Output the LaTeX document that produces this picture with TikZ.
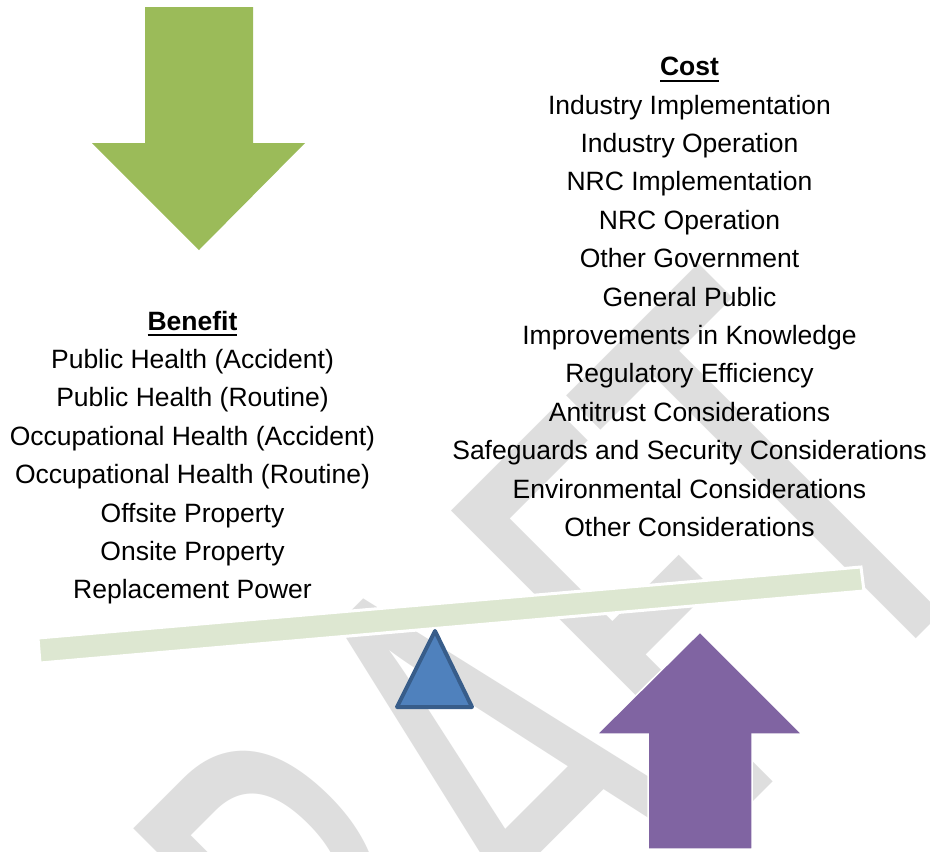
\documentclass[tikz,border=0pt]{standalone}
\usepackage{fontspec}
\usepackage{graphicx}
\setmainfont{Liberation Sans}
\newfontfamily\wmfont{Carlito}

\definecolor{wmgray}{RGB}{222,222,222}
\definecolor{benefitgreen}{RGB}{155,187,89}
\definecolor{costpurple}{RGB}{128,100,162}
\definecolor{beamgreen}{RGB}{221,231,209}
\definecolor{pivotfill}{RGB}{79,129,189}
\definecolor{pivotline}{RGB}{56,93,138}

% bold heading with a heavy underline
\newcommand{\headline}[1]{\setbox0\hbox{\bfseries #1}\rlap{\rule[-6pt]{\wd0}{2pt}}\box0}

\begin{document}
\begin{tikzpicture}[x=1pt,y=-1pt,
  listtext/.style={anchor=base, inner sep=0pt, font=\fontsize{26.5}{30}\selectfont},
  watermark/.style={anchor=base west, inner sep=0pt, rotate=45, text=wmgray,
    font=\wmfont\fontsize{653}{653}\selectfont},
  benefitarrow/.style={fill=benefitgreen},
  costarrow/.style={fill=costpurple, draw=white, line width=1.5pt},
  beam/.style={fill=beamgreen, draw=white, line width=3pt},
  pivot/.style={fill=pivotfill, draw=pivotline, line width=4pt, line join=round}]

\useasboundingbox (0,0) rectangle (930,852);
\fill[white] (0,0) rectangle (930,852);

% diagonal watermark behind everything
\begin{scope}
  \clip (0,0) rectangle (930,852);
  \node[watermark] (draft) at (234,1321) {\scalebox{0.617}[1]{DRAFT}};
\end{scope}

% benefit arrow pressing down
\path[benefitarrow] (145,7) -- (253,7) -- (253,143) -- (305,143) -- (199,250)
  -- (92,143) -- (145,143) -- cycle;

% cost arrow pushing up
\path[costarrow] (700,632) -- (802,734) -- (752,734) -- (752,849) -- (648,849)
  -- (648,734) -- (597,734) -- cycle;

% tilted balance beam and its pivot
\path[beam] (38,638) -- (861,567) -- (864,591) -- (40,663) -- cycle;
\path[pivot] (435,631) -- (472,707) -- (397,707) -- cycle;

% cost list
\node[listtext] (cost0) at (689.5,75.6) {\headline{Cost}};
\foreach \t [count=\i from 1] in {Industry Implementation, Industry Operation,
    NRC Implementation, NRC Operation, Other Government, General Public,
    Improvements in Knowledge, Regulatory Efficiency, Antitrust Considerations,
    Safeguards and Security Considerations, Environmental Considerations,
    Other Considerations}
  \node[listtext] (cost\i) at (689.5,{75.6+38.4*\i}) {\t};

% benefit list
\node[listtext] (ben0) at (192.5,330) {\headline{Benefit}};
\foreach \t [count=\i from 1] in {Public Health (Accident), Public Health (Routine),
    Occupational Health (Accident), Occupational Health (Routine),
    Offsite Property, Onsite Property, Replacement Power}
  \node[listtext] (ben\i) at (192.5,{330+38.4*\i}) {\t};

\end{tikzpicture}
\end{document}
